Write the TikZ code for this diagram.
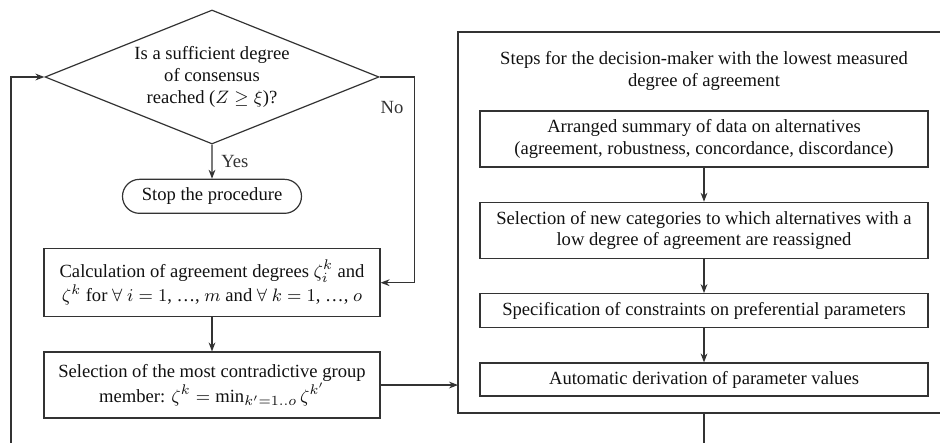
\documentclass[tikz,border=0pt]{standalone}
\usepackage{fontspec}
\setmainfont{Liberation Serif}
\usetikzlibrary{shapes.geometric, shapes.misc, arrows.meta, positioning, calc}
\definecolor{LineGray}{HTML}{333333}
\definecolor{TextDark}{HTML}{111111}

\begin{document}
\begin{tikzpicture}[
        x=0.5pt, y=-0.5pt,
        node distance=0.6cm,
        font=\fontsize{9.3}{10.8}\selectfont,
        decide/.style={diamond, draw=LineGray, line width=0.6pt, aspect=2.5, inner sep=0pt, minimum width=167pt, minimum height=67pt, align=center, text=TextDark},
        stopbox/.style={rounded rectangle, draw=LineGray, line width=0.6pt, minimum width=89.5pt, minimum height=17pt, inner sep=0pt, text=TextDark},
        proc/.style={rectangle, draw=LineGray, line width=0.6pt, minimum width=168pt, minimum height=34pt, inner sep=0pt, align=center, text=TextDark},
        substep/.style={rectangle, draw=LineGray, line width=0.6pt, minimum width=224pt, minimum height=28pt, inner sep=0pt, align=center, text=TextDark},
        wire/.style={line width=0.6pt, LineGray},
        arr/.style={-{Stealth[length=4.5pt, width=3.4pt]}, line width=0.6pt, LineGray}
      ]
        \useasboundingbox (0,0) rectangle (940,443);

        \node[decide] (dec) at (212,77) {Is a sufficient degree \\ of consensus \\ reached ($Z \geq \xi$)?};
        \node[stopbox, below=of dec] (stop) {Stop the procedure};
        \node[proc, below=of stop] (calc) {Calculation of agreement degrees $\zeta_i^k$ and \\ $\zeta^k$ for $\forall\ i = 1$, …, $m$ and $\forall\ k = 1$, …, $o$};
        \node[proc, below=of calc, minimum height=33pt] (sel) {Selection of the most contradictive group \\ member: $\zeta^k = \min_{k'=1..o} \zeta^{k'}$};

        \node[text=TextDark, align=center] (title) at (704,71) {Steps for the decision-maker with the lowest measured \\ degree of agreement};
        \node[substep] (summ) at (704,139) {Arranged summary of data on alternatives \\ (agreement, robustness, concordance, discordance)};
        \node[substep, below=of summ] (cats) {Selection of new categories to which alternatives with a \\ low degree of agreement are reassigned};
        \node[substep, below=of cats, minimum height=17pt] (cons) {Specification of constraints on preferential parameters};
        \node[substep, below=of cons, minimum height=16.5pt] (deriv) {Automatic derivation of parameter values};

        \coordinate (frameW) at (458,380);
        \coordinate (frameS) at (704,413);
        \coordinate (exitS) at (704,443);
        \coordinate (loopS) at (11,443);

        \draw[wire] (941,32) -- (458,32) -- (458,413) -- (941,413);

        \draw[arr] (dec) -- node[right, xshift=1pt] {Yes} (stop);
        \draw[arr] (dec.east) -- ++(35,0) |- node[pos=0.075, left, xshift=-2pt] {No} (calc.east);
        \draw[arr] (calc) -- (sel);
        \draw[arr] (sel.east) -- (sel.east -| frameW);
        \draw[arr] (loopS) |- (dec.west);

        \draw[arr] (summ) -- (cats);
        \draw[arr] (cats) -- (cons);
        \draw[arr] (cons) -- (deriv);
        \draw[wire] (frameS) -- (exitS);
      \end{tikzpicture}
\end{document}
